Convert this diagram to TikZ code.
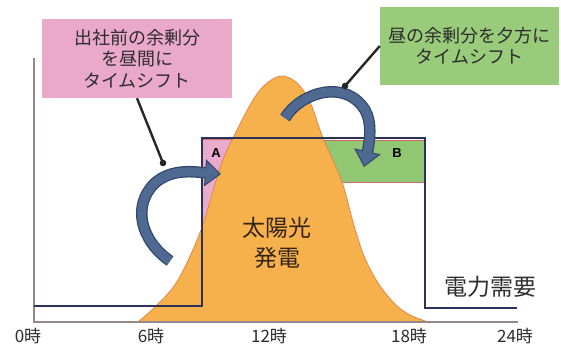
\documentclass[tikz,border=0pt]{standalone}
\usepackage{fontspec}
\setmainfont{Noto Sans CJK JP}
\newfontfamily\labfont{Liberation Sans}
\usetikzlibrary{arrows.meta}
\definecolor{pinkbox}{RGB}{234,168,202}
\definecolor{greenbox}{RGB}{152,203,122}
\definecolor{pinkA}{RGB}{232,170,205}
\definecolor{greenB}{RGB}{145,198,115}
\definecolor{solar}{RGB}{246,176,76}
\definecolor{solaredge}{RGB}{228,135,72}
\definecolor{regionedge}{RGB}{212,105,105}
\definecolor{demand}{RGB}{45,50,90}
\definecolor{axisc}{RGB}{150,135,140}
\definecolor{arrowblue}{RGB}{78,106,146}
\definecolor{arrowdark}{RGB}{50,70,105}
\definecolor{txt}{RGB}{45,45,45}
\definecolor{soltxt}{RGB}{50,35,20}
\begin{document}
\begin{tikzpicture}[x=1pt,y=-1pt,
  callbox/.style={inner sep=0pt, align=center, text=txt, font=\fontsize{18}{21.5}\selectfont},
  axlab/.style={inner sep=0pt, text=txt, font=\fontsize{17}{17}\selectfont},
  biglab/.style={inner sep=0pt, align=center, font=\fontsize{23}{30}\selectfont},
  reglab/.style={inner sep=0pt, font=\labfont\bfseries\fontsize{13}{13}\selectfont},
  callout/.style={draw=black!85, line width=2.4pt},
  demandline/.style={draw=demand, line width=2.6pt, line join=miter},
  axisline/.style={draw=axisc, line width=2.4pt},
  arrowouter/.style={draw=arrowdark, line width=11.5pt,
     -{Triangle[length=16pt,width=27pt,line width=1pt,fill=arrowblue]}},
  arrowinner/.style={draw=arrowblue, line width=9pt, shorten >=15pt}
]
\useasboundingbox (0,0) rectangle (561,347);
\fill[white] (0,0) rectangle (561,347);

% text boxes
\node[callbox, fill=pinkbox, minimum width=190pt, minimum height=79pt] (pinkbox) at (137,58.5)
  {出社前の余剰分\\を昼間に\\タイムシフト};
\node[callbox, fill=greenbox, minimum width=179pt, minimum height=78pt] (greenbox) at (469.5,46)
  {昼の余剰分を夕方に\\タイムシフト};

% surplus regions
\filldraw[fill=pinkA, draw=regionedge, line width=0.8pt] (202,139) rectangle (246,242);
\filldraw[fill=greenB, draw=regionedge, line width=0.8pt] (300,140) rectangle (424,182);

% solar generation
\filldraw[fill=solar, draw=solaredge, line width=0.8pt]
  plot[smooth, tension=0.55] coordinates {(138,322) (157,305) (178,280) (201,230) (220,168)
   (233,138) (253,100) (267,83) (282,76) (297,83) (310,102) (323,138) (342,182) (353,222)
   (364,256) (378,283) (395,304) (410,315) (428,322)} -- cycle;

% axes
\draw[axisline] (34,58) -- (34,322) -- (518,322);

% demand
\draw[demandline] (34,306) -- (202,306) -- (202,138) -- (425,138) -- (425,308) -- (517,308);

% labels
\node[reglab] (labA) at (216,153) {A};
\node[reglab] (labB) at (397,153) {B};
\node[biglab, text=soltxt] (solarlab) at (277,243) {太陽光\\発電};
\node[biglab, text=txt] (demandlab) at (490,287) {電力需要};
\node[axlab] (t0) at (28,336) {0時};
\node[axlab] (t6) at (151,336) {6時};
\node[axlab] (t12) at (269,336) {12時};
\node[axlab] (t18) at (409,336) {18時};
\node[axlab] (t24) at (515,336) {24時};

% left shift arrow
\coordinate (lt) at (170,261);
\coordinate (lm) at (155,183);
\coordinate (lh) at (221,174);
\draw[arrowouter] (lt) .. controls (140,240) and (132,205) .. (lm) .. controls (172,168) and (195,172) .. (lh);
\draw[arrowinner] (lt) .. controls (140,240) and (132,205) .. (lm) .. controls (172,168) and (195,172) .. (lh);

% right shift arrow
\coordinate (rt) at (285,118);
\coordinate (rm) at (365,110);
\coordinate (rh) at (364,167);
\draw[arrowouter] (rt) .. controls (300,93) and (345,78) .. (rm) .. controls (372,122) and (370,140) .. (rh);
\draw[arrowinner] (rt) .. controls (300,93) and (345,78) .. (rm) .. controls (372,122) and (370,140) .. (rh);

% callouts
\coordinate (dotL) at (163,163);
\coordinate (dotR) at (345,86);
\draw[callout] (pinkbox.south) -- (dotL);
\fill[black!85] (dotL) circle (3.3pt);
\draw[callout] (greenbox.west) -- (dotR);
\fill[black!85] (dotR) circle (3.3pt);
\end{tikzpicture}
\end{document}
